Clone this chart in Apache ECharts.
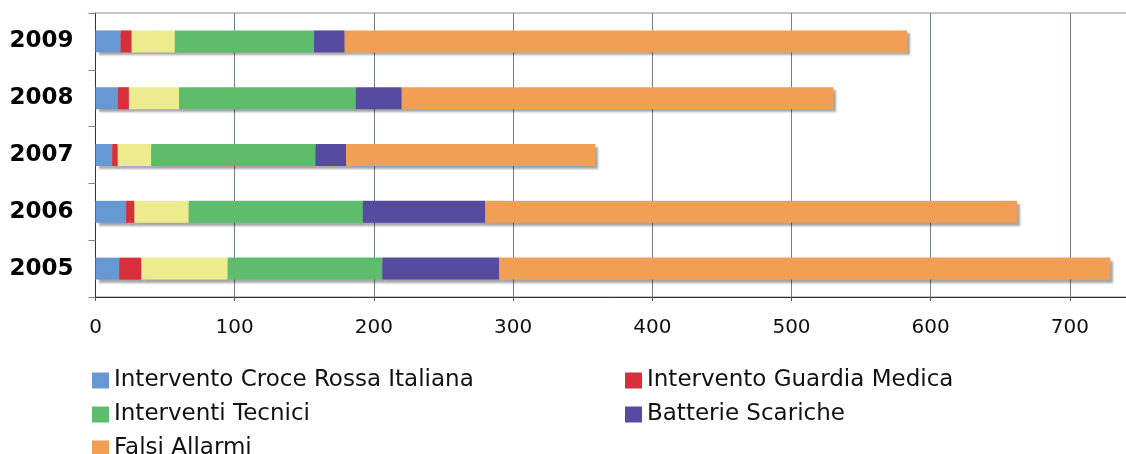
<!DOCTYPE html>
<html>
<head>
<meta charset="utf-8">
<style>
html,body{margin:0;padding:0;background:#fff;overflow:hidden;}
#chart{width:1126px;height:454px;}
</style>
<script src="https://cdn.jsdelivr.net/npm/echarts@6/dist/echarts.min.js"></script>
</head>
<body>
<div id="chart"></div>
<script>
const years = ['2005', '2006', '2007', '2008', '2009'];
const xTicks = [0, 100, 200, 300, 400, 500, 600, 700];
const croceRossa = [17, 22, 12, 16, 18];
const guardiaMedica = [16, 6, 4, 8, 8];
const altro = [62, 39, 24, 36, 31];
const interventiTecnici = [111, 125, 118, 127, 100];
const batterieScariche = [84, 88, 22, 33, 22];
const falsiAllarmi = [439, 382, 179, 310, 404];

const seriesDefs = [
  { name: 'Intervento Croce Rossa Italiana', data: croceRossa, color: '#6699d4' },
  { name: 'Intervento Guardia Medica', data: guardiaMedica, color: '#d7303b' },
  { name: 'Altro', data: altro, color: '#eeeb8e' },
  { name: 'Interventi Tecnici', data: interventiTecnici, color: '#5ebd6c' },
  { name: 'Batterie Scariche', data: batterieScariche, color: '#574ba0' },
  { name: 'Falsi Allarmi', data: falsiAllarmi, color: '#f19f55' }
];

const legendPlaces = [
  { name: 'Intervento Croce Rossa Italiana', left: 92, top: 369 },
  { name: 'Intervento Guardia Medica', left: 625, top: 369 },
  { name: 'Interventi Tecnici', left: 92, top: 403 },
  { name: 'Batterie Scariche', left: 625, top: 403 },
  { name: 'Falsi Allarmi', left: 92, top: 437 }
];

const chart = echarts.init(document.getElementById('chart'));
const legendText = { fontFamily: 'DejaVu Sans', fontSize: 23, color: '#111', lineHeight: 18 };
chart.setOption({
  backgroundColor: '#ffffff',
  animation: false,
  grid: {
    left: 95.5, top: 13, bottom: 157, right: -13.5,
    outerBoundsMode: 'none',
    show: true, borderColor: '#8a8f96', borderWidth: 1, containLabel: false
  },
  xAxis: {
    type: 'value', min: 0, max: 750, interval: 100,
    axisLine: { show: true, lineStyle: { color: '#333', width: 1 } },
    axisTick: { show: true, length: 4, lineStyle: { color: '#555' } },
    splitLine: { show: true, lineStyle: { color: '#6f7f8c', width: 1 } },
    axisLabel: {
      fontFamily: 'DejaVu Sans', fontSize: 20, color: '#111', margin: 21,
      formatter: function (v) { return xTicks.indexOf(v) >= 0 ? String(v) : ''; }
    }
  },
  yAxis: {
    type: 'category', data: years,
    axisLine: { show: true, lineStyle: { color: '#333', width: 1 } },
    axisTick: { show: true, length: 7, lineStyle: { color: '#6f8a9c' } },
    axisLabel: { fontFamily: 'DejaVu Sans', fontWeight: 'bold', fontSize: 23, color: '#000', margin: 22 }
  },
  legend: legendPlaces.map(function (p) {
    return {
      orient: 'horizontal', left: p.left, top: p.top, padding: 0,
      itemWidth: 17, itemHeight: 16, icon: 'rect', textStyle: legendText,
      data: [p.name]
    };
  }),
  series: seriesDefs.map(function (s) {
    return {
      name: s.name, type: 'bar', stack: 'total', data: s.data, barWidth: 22,
      itemStyle: {
        color: s.color,
        shadowColor: 'rgba(0,0,0,0.35)', shadowBlur: 2, shadowOffsetX: 3, shadowOffsetY: 3
      }
    };
  })
});
</script>
</body>
</html>
